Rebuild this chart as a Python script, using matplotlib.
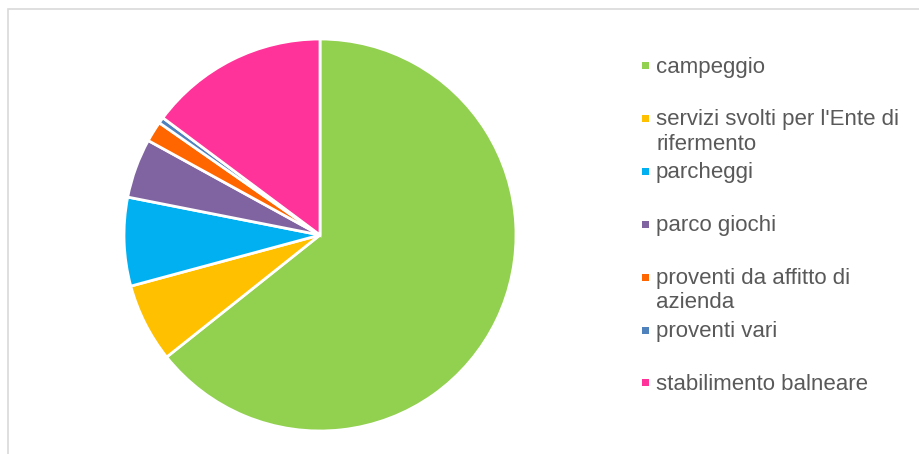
import matplotlib.pyplot as plt
from matplotlib.patches import Rectangle

labels = ["campeggio", "servizi svolti per l'Ente di\nrifermento", "parcheggi",
          "parco giochi", "proventi da affitto di\nazienda", "proventi vari",
          "stabilimento balneare"]
values = [64.3, 6.5, 7.3, 4.9, 1.7, 0.5, 14.8]
colors = ["#92D050", "#FFC000", "#00B0F0", "#8064A2", "#FF6600", "#4F81BD", "#FF3399"]

W, H = 919, 454
fig = plt.figure(figsize=(W / 100, H / 100), dpi=100)
plt.rcParams['font.family'] = ['Liberation Sans', 'DejaVu Sans']

# light frame of the chart area (cut at right and bottom)
fig.patches.append(Rectangle((8 / W, -0.1), 1.2, (H - 9) / H + 0.1,
                             transform=fig.transFigure, fill=False,
                             edgecolor="#D9D9D9", linewidth=1.2))

cx, cy, r = 320, 235, 196
ax = fig.add_axes([(cx - r) / W, (H - cy - r) / H, 2 * r / W, 2 * r / H])
ax.pie(values, colors=colors, startangle=90, counterclock=False,
       wedgeprops=dict(edgecolor="white", linewidth=2))
ax.set_xlim(-1, 1)
ax.set_ylim(-1, 1)
ax.set_aspect("auto")
ax.axis("off")

# legend drawn by hand, evenly spaced slots
top, step = 65.5, 52.9
for i, (lab, col) in enumerate(zip(labels, colors)):
    y = top + i * step
    fig.patches.append(Rectangle((642 / W, 1 - (y + 3.5) / H), 7 / W, 7 / H,
                                 transform=fig.transFigure, facecolor=col,
                                 edgecolor="none"))
    fig.text(656 / W, 1 - (y - 9) / H, lab, fontsize=16, color="#595959",
             va="top", ha="left", linespacing=1.2)

fig.savefig("out.png", dpi=100)
